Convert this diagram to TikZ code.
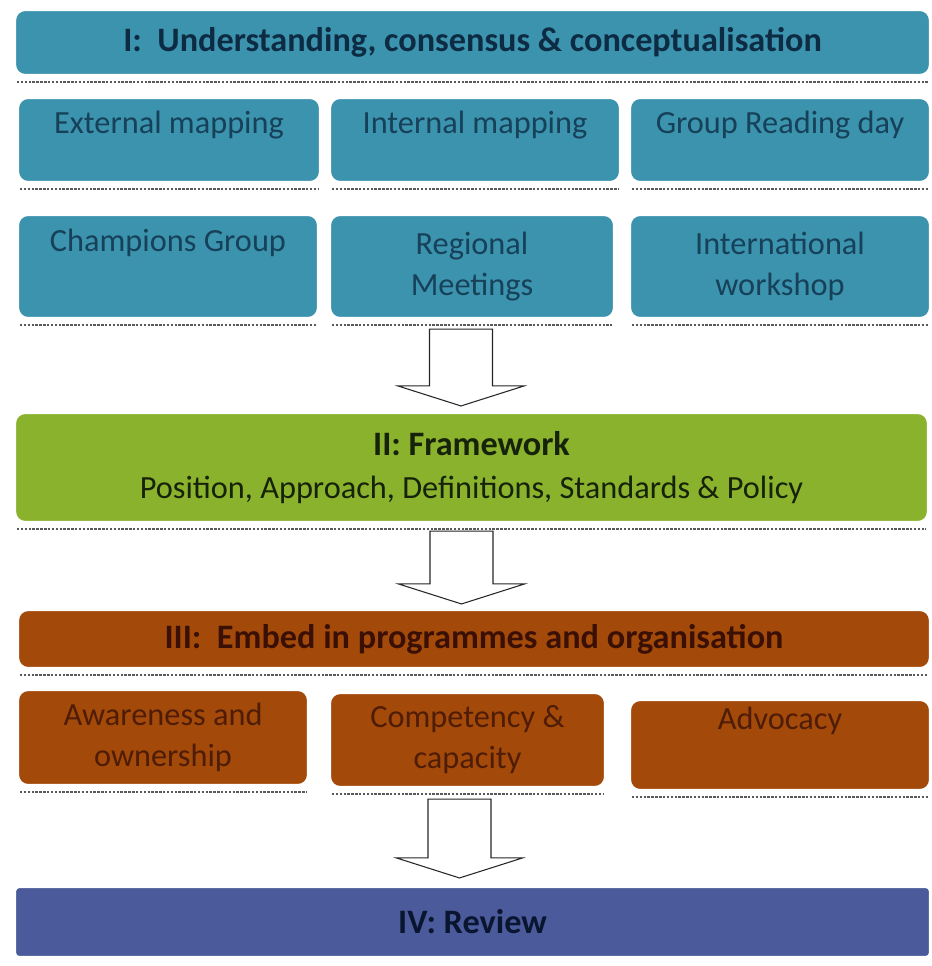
\documentclass[tikz,border=0pt]{standalone}
\usepackage{fontspec}
\setmainfont{Carlito}
\usepackage{xcolor}
\usepackage{tikz}
\usetikzlibrary{shapes,arrows,calc}
\definecolor{tealbox}{HTML}{3B93AE}
\definecolor{tealtext}{HTML}{0E2B44}
\definecolor{greenbox}{HTML}{8AB22D}
\definecolor{greentext}{HTML}{16220A}
\definecolor{brownbox}{HTML}{A34A0A}
\definecolor{browntext}{HTML}{3A1005}
\definecolor{bluebox}{HTML}{4A5A9A}
\definecolor{bluetext}{HTML}{0A1530}
\tikzstyle{stage} = [rectangle, rounded corners=0.2cm, draw=white, line width=1.2pt, align=center, inner sep=0pt]
\tikzstyle{heading} = [stage, font=\fontsize{19.5}{23}\selectfont\bfseries]
\tikzstyle{activity} = [stage, font=\fontsize{18.4}{23.3}\selectfont]
\tikzstyle{shadowline} = [draw=black!65, line width=1.6pt, dash pattern=on 1.4pt off 0.8pt]
\tikzstyle{blockarrow} = [draw=black!85, fill=white, line width=0.6pt,
  to path={let \p1=(\tikztostart), \p2=(\tikztotarget) in
    (\x1-0.63cm,\y1) -- (\x1-0.63cm,\y2+0.4cm) -- (\x1-1.26cm,\y2+0.4cm) -- (\x1,\y2)
    -- (\x1+1.26cm,\y2+0.4cm) -- (\x1+0.63cm,\y2+0.4cm) -- (\x1+0.63cm,\y1) -- cycle}]

\begin{document}
\begin{tikzpicture}[x=0.02cm, y=-0.02cm]
\useasboundingbox (0,0) rectangle (932,966);

% stage I
\node[heading, fill=tealbox, text=tealtext, minimum width=18.3cm, minimum height=1.3cm] at (472.5,42.5) (understand) {I:\ \ Understanding, consensus \& conceptualisation};
\begin{scope}[every node/.style={activity, fill=tealbox, text=tealtext!80!tealbox}]
\node[minimum width=6.04cm, minimum height=1.68cm] at (169,140) (external) {External mapping\\[-10pt]\strut};
\node[minimum width=5.8cm, minimum height=1.68cm] at (475,140) (internal) {Internal mapping\\[-10pt]\strut};
\node[minimum width=6cm, minimum height=1.68cm] at (780,140) (reading) {Group Reading day\\[-10pt]\strut};
\node[minimum width=6cm, minimum height=2.06cm] at (168,266.5) (champions) {Champions Group\\\strut};
\node[minimum width=5.68cm, minimum height=2.06cm] at (472,266.5) (regional) {Regional\\Meetings};
\node[minimum width=6cm, minimum height=2.06cm] at (780,266.5) (workshop) {International\\workshop};
\end{scope}

% stage II
\node[activity, fill=greenbox, text=greentext, minimum width=18.26cm, minimum height=2.18cm] at (471.5,467.5) (framework)
  {{\fontsize{19.5}{23}\selectfont\bfseries II: Framework}\\[1pt]Position, Approach, Definitions, Standards \& Policy};

% stage III
\node[heading, fill=brownbox, text=browntext, minimum width=18.24cm, minimum height=1.16cm] at (474,639) (embed) {III:\ \ Embed in programmes and organisation};
\begin{scope}[every node/.style={activity, fill=brownbox, text=browntext!80!brownbox}]
\node[minimum width=5.8cm, minimum height=1.9cm] at (163,737.5) (awareness) {Awareness and\\ownership};
\node[minimum width=5.5cm, minimum height=1.88cm] at (467.5,740) (competency) {Competency \&\\capacity};
\node[minimum width=6cm, minimum height=1.8cm] at (780,745) (advocacy) {Advocacy\\\strut};
\end{scope}

% stage IV
\node[heading, rounded corners=0.08cm, fill=bluebox, text=bluetext, minimum width=18.3cm, minimum height=1.4cm] at (472.5,922) (review) {IV: Review};

% shadows under the boxes
\foreach \n in {understand, external, internal, reading, champions, regional, workshop, framework, embed, awareness, competency, advocacy}
  \draw[shadowline] ([shift={(3,6)}]\n.south west) -- ([shift={(-3,6)}]\n.south east);

% flow arrows
\path[blockarrow] ([shift={(-11,10)}]regional.south) to ([yshift=0.12cm]framework.north);
\path[blockarrow] ([shift={(-10,8)}]framework.south) to ([yshift=0.1cm]embed.north);
\path[blockarrow] ([shift={(-8,11)}]competency.south) to ([yshift=0.16cm]review.north);
\end{tikzpicture}
\end{document}
